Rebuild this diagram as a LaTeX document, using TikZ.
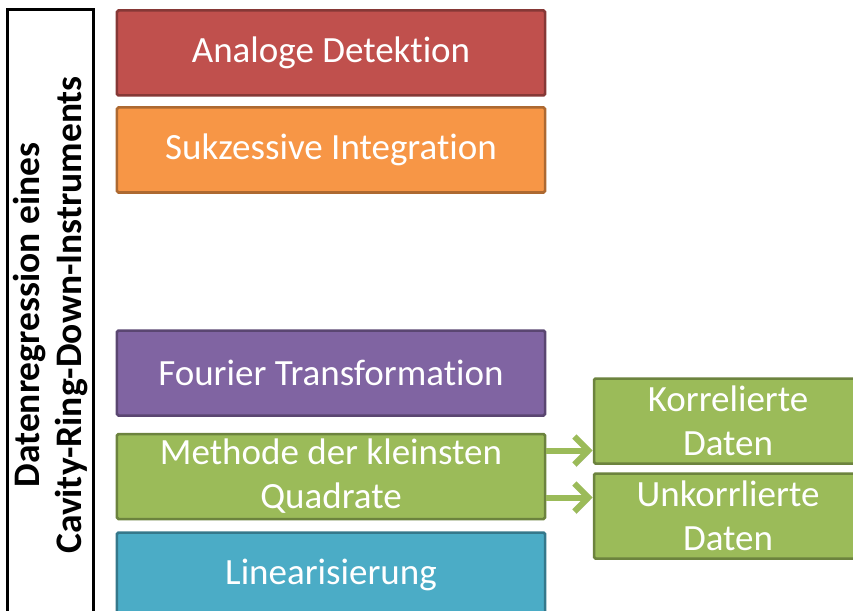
\documentclass[tikz,border=0pt]{standalone}
\usepackage{fontspec}
\setmainfont{Carlito}[Ligatures=NoCommon]
\usetikzlibrary{arrows.meta}
\definecolor{redbox}{HTML}{C0504D}
\definecolor{orangebox}{HTML}{F79646}
\definecolor{purplebox}{HTML}{8064A2}
\definecolor{greenbox}{HTML}{9BBB59}
\definecolor{aquabox}{HTML}{4BACC6}
\begin{document}
\begin{tikzpicture}[x=1bp, y=-1bp,
block/.style = {rectangle, draw=#1!70!black, fill=#1, line width=2.5bp, rounded corners=1.5bp,
  text=white, align=center, minimum width=428bp, minimum height=85bp, inner sep=0pt,
  font=\fontsize{37bp}{44bp}\selectfont},
side/.style = {block=greenbox, minimum width=268bp},
flow/.style = {draw=greenbox, line width=6bp, -{Straight Barb[length=14bp, width=28bp]},
  preaction={draw=black!22, transform canvas={shift={(1.5bp,-2.5bp)}}}}]
\useasboundingbox (0,0) rectangle (853,611);
\node[rectangle, draw=black, line width=3bp, fill=white, rotate=90, minimum width=610bp,
  minimum height=85bp, align=center, font=\fontsize{37.5bp}{42bp}\selectfont\bfseries]
  at (50.5,315) (cr) {Datenregression eines\\Cavity-Ring-Down-Instruments};
\node[block=redbox] at (331,53) (ad) {Analoge Detektion};
\node[block=orangebox] at (331,150) (si) {Sukzessive Integration};
\node[block=purplebox] at (331,373) (ft) {Fourier Transformation};
\node[block=greenbox] at (331,476.5) (mq) {Methode der kleinsten\\Quadrate};
\node[block=aquabox] at (331,575) (li) {Linearisierung};
\node[side] at (728,421) (kd) {Korrelierte\\Daten};
\node[side] at (728,516) (ud) {Unkorrlierte\\Daten};
\draw[flow] ([yshift=26bp]mq.east) -- ([yshift=26bp]mq.east -| kd.west);
\draw[flow] ([yshift=-21bp]mq.east) -- ([yshift=-21bp]mq.east -| ud.west);
\end{tikzpicture}
\end{document}
